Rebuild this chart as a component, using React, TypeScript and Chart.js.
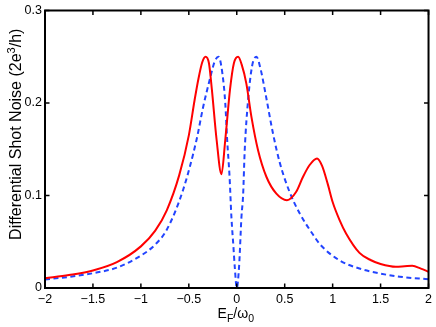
import React, { useEffect, useRef } from "react";
import { Chart, registerables } from "chart.js";

Chart.register(...registerables);

// Energy axis (E_F / omega_0) sample positions and values
const redX = [-2.0, -1.75, -1.5, -1.25, -1.0, -0.85, -0.73, -0.6, -0.5, -0.44, -0.4, -0.36, -0.326, -0.29, -0.26, -0.21, -0.16, -0.12, -0.07, -0.03, 0.014, 0.05, 0.1, 0.153, 0.222, 0.31, 0.413, 0.524, 0.62, 0.69, 0.76, 0.837, 0.89, 0.95, 1.0, 1.07, 1.14, 1.28, 1.4, 1.5, 1.66, 1.75, 1.83, 1.92, 2.0];
const redY = [0.0104, 0.014, 0.019, 0.028, 0.045, 0.062, 0.084, 0.122, 0.165, 0.203, 0.226, 0.244, 0.25, 0.243, 0.215, 0.16, 0.123, 0.16, 0.215, 0.243, 0.25, 0.242, 0.221, 0.185, 0.149, 0.12, 0.102, 0.095, 0.104, 0.12, 0.133, 0.14, 0.132, 0.112, 0.093, 0.074, 0.059, 0.038, 0.03, 0.026, 0.023, 0.0235, 0.024, 0.021, 0.0176];

const blueX = [-2.0, -1.75, -1.5, -1.25, -1.0, -0.85, -0.73, -0.56, -0.42, -0.35, -0.28, -0.23, -0.19, -0.15, -0.12, -0.1, -0.075, -0.056, -0.035, -0.021, 0.0, 0.024, 0.049, 0.066, 0.083, 0.118, 0.16, 0.205, 0.25, 0.3, 0.378, 0.45, 0.55, 0.66, 0.8, 0.87, 1.07, 1.28, 1.49, 1.7, 2.0];
const blueY = [0.0092, 0.012, 0.016, 0.022, 0.035, 0.047, 0.063, 0.106, 0.16, 0.196, 0.226, 0.245, 0.25, 0.232, 0.2, 0.16, 0.12, 0.077, 0.045, 0.023, 0.0, 0.023, 0.077, 0.1, 0.149, 0.203, 0.24, 0.25, 0.236, 0.21, 0.167, 0.135, 0.104, 0.08, 0.057, 0.047, 0.03, 0.021, 0.0158, 0.0122, 0.0094];

const xTicks = [-2, -1.5, -1, -0.5, 0, 0.5, 1, 1.5, 2];
const xTickLabels = ["\u22122", "\u22121.5", "\u22121", "\u22120.5", "0", "0.5", "1", "1.5", "2"];
const yTicks = [0, 0.1, 0.2, 0.3];
const yTickLabels = ["0", "0.1", "0.2", "0.3"];

const FONT = "'Liberation Sans', Arial, Helvetica, sans-serif";

const framePlugin = {
  id: "matlabFrame",
  afterDraw(chart: any) {
    const { ctx, chartArea: a, scales } = chart;
    ctx.save();
    ctx.strokeStyle = "#000";
    ctx.lineWidth = 2;
    ctx.strokeRect(a.left, a.top, a.right - a.left, a.bottom - a.top);

    ctx.lineWidth = 1.5;
    const tl = 4.5;
    ctx.beginPath();
    xTicks.forEach((v) => {
      const px = scales.x.getPixelForValue(v);
      ctx.moveTo(px, a.bottom);
      ctx.lineTo(px, a.bottom - tl);
      ctx.moveTo(px, a.top);
      ctx.lineTo(px, a.top + tl);
    });
    yTicks.forEach((v) => {
      const py = scales.y.getPixelForValue(v);
      ctx.moveTo(a.left, py);
      ctx.lineTo(a.left + tl, py);
      ctx.moveTo(a.right, py);
      ctx.lineTo(a.right - tl, py);
    });
    ctx.stroke();

    // Y axis title (rotated), with superscript 3
    ctx.fillStyle = "#000";
    const big = `16px ${FONT}`;
    const small = `11px ${FONT}`;
    const p1 = "Differential Shot Noise (2e";
    const p2 = "3";
    const p3 = "/h)";
    ctx.font = big;
    const w1 = ctx.measureText(p1).width;
    const w3 = ctx.measureText(p3).width;
    ctx.font = small;
    const w2 = ctx.measureText(p2).width;
    const total = w1 + w2 + w3;
    const cy = (a.top + a.bottom) / 2 - 15;
    ctx.save();
    ctx.translate(20.5, cy + total / 2);
    ctx.rotate(-Math.PI / 2);
    ctx.textAlign = "left";
    ctx.textBaseline = "alphabetic";
    ctx.font = big;
    ctx.fillText(p1, 0, 0);
    ctx.font = small;
    ctx.fillText(p2, w1, -6);
    ctx.font = big;
    ctx.fillText(p3, w1 + w2, 0);
    ctx.restore();

    // X axis title E_F / omega_0
    const xb = `14px ${FONT}`;
    const xs = `10.5px ${FONT}`;
    ctx.font = xb;
    const eW = ctx.measureText("E").width;
    const mW = ctx.measureText("/\u03c9").width;
    ctx.font = xs;
    const fW = ctx.measureText("F").width;
    const zW = ctx.measureText("0").width;
    const xt = eW + fW + mW + zW;
    let x0 = (a.left + a.right) / 2 - 1 - xt / 2;
    const base = 318;
    ctx.textAlign = "left";
    ctx.textBaseline = "alphabetic";
    ctx.font = xb;
    ctx.fillText("E", x0, base);
    x0 += eW;
    ctx.font = xs;
    ctx.fillText("F", x0, base + 4);
    x0 += fW;
    ctx.font = xb;
    ctx.fillText("/\u03c9", x0, base);
    x0 += mW;
    ctx.font = xs;
    ctx.fillText("0", x0, base + 4);
    ctx.restore();
  },
};

export default function App() {
  const ref = useRef<HTMLCanvasElement | null>(null);

  useEffect(() => {
    if (!ref.current) return;
    const chart = new Chart(ref.current, {
      type: "line",
      data: {
        datasets: [
          {
            label: "solid",
            data: redX.map((x, i) => ({ x, y: redY[i] })),
            borderColor: "#ff0000",
            borderWidth: 2,
            pointRadius: 0,
            fill: false,
            cubicInterpolationMode: "monotone",
          },
          {
            label: "dashed",
            data: blueX.map((x, i) => ({ x, y: blueY[i] })),
            borderColor: "#2244ff",
            borderWidth: 2,
            borderDash: [5, 3.5],
            pointRadius: 0,
            fill: false,
            cubicInterpolationMode: "monotone",
          },
        ],
      },
      options: {
        responsive: false,
        animation: false,
        layout: { padding: { left: 0, top: 10, right: 7, bottom: 0 } },
        plugins: {
          legend: { display: false },
          tooltip: { enabled: false },
          title: { display: false },
        },
        scales: {
          x: {
            type: "linear",
            min: -2,
            max: 2,
            grid: { display: false, drawTicks: false },
            border: { display: false },
            afterBuildTicks: (s: any) => {
              s.ticks = xTicks.map((v) => ({ value: v }));
            },
            afterFit: (s: any) => {
              s.height = 39;
            },
            ticks: {
              padding: 4,
              maxRotation: 0,
              autoSkip: false,
              color: "#000",
              font: { family: FONT, size: 12.5 },
              callback: (_v: any, i: number) => xTickLabels[i],
            },
          },
          y: {
            type: "linear",
            min: 0,
            max: 0.3,
            grid: { display: false, drawTicks: false },
            border: { display: false },
            afterBuildTicks: (s: any) => {
              s.ticks = yTicks.map((v) => ({ value: v }));
            },
            afterFit: (s: any) => {
              s.width = 45;
            },
            ticks: {
              padding: 3,
              autoSkip: false,
              color: "#000",
              font: { family: FONT, size: 12.5 },
              callback: (_v: any, i: number) => yTickLabels[i],
            },
          },
        },
      },
      plugins: [framePlugin],
    });
    return () => chart.destroy();
  }, []);

  return (
    <div style={{ position: "fixed", left: 0, top: 0, width: 436, height: 327, background: "#fff" }}>
      <canvas ref={ref} width={436} height={327} style={{ display: "block", width: 436, height: 327 }} />
    </div>
  );
}
